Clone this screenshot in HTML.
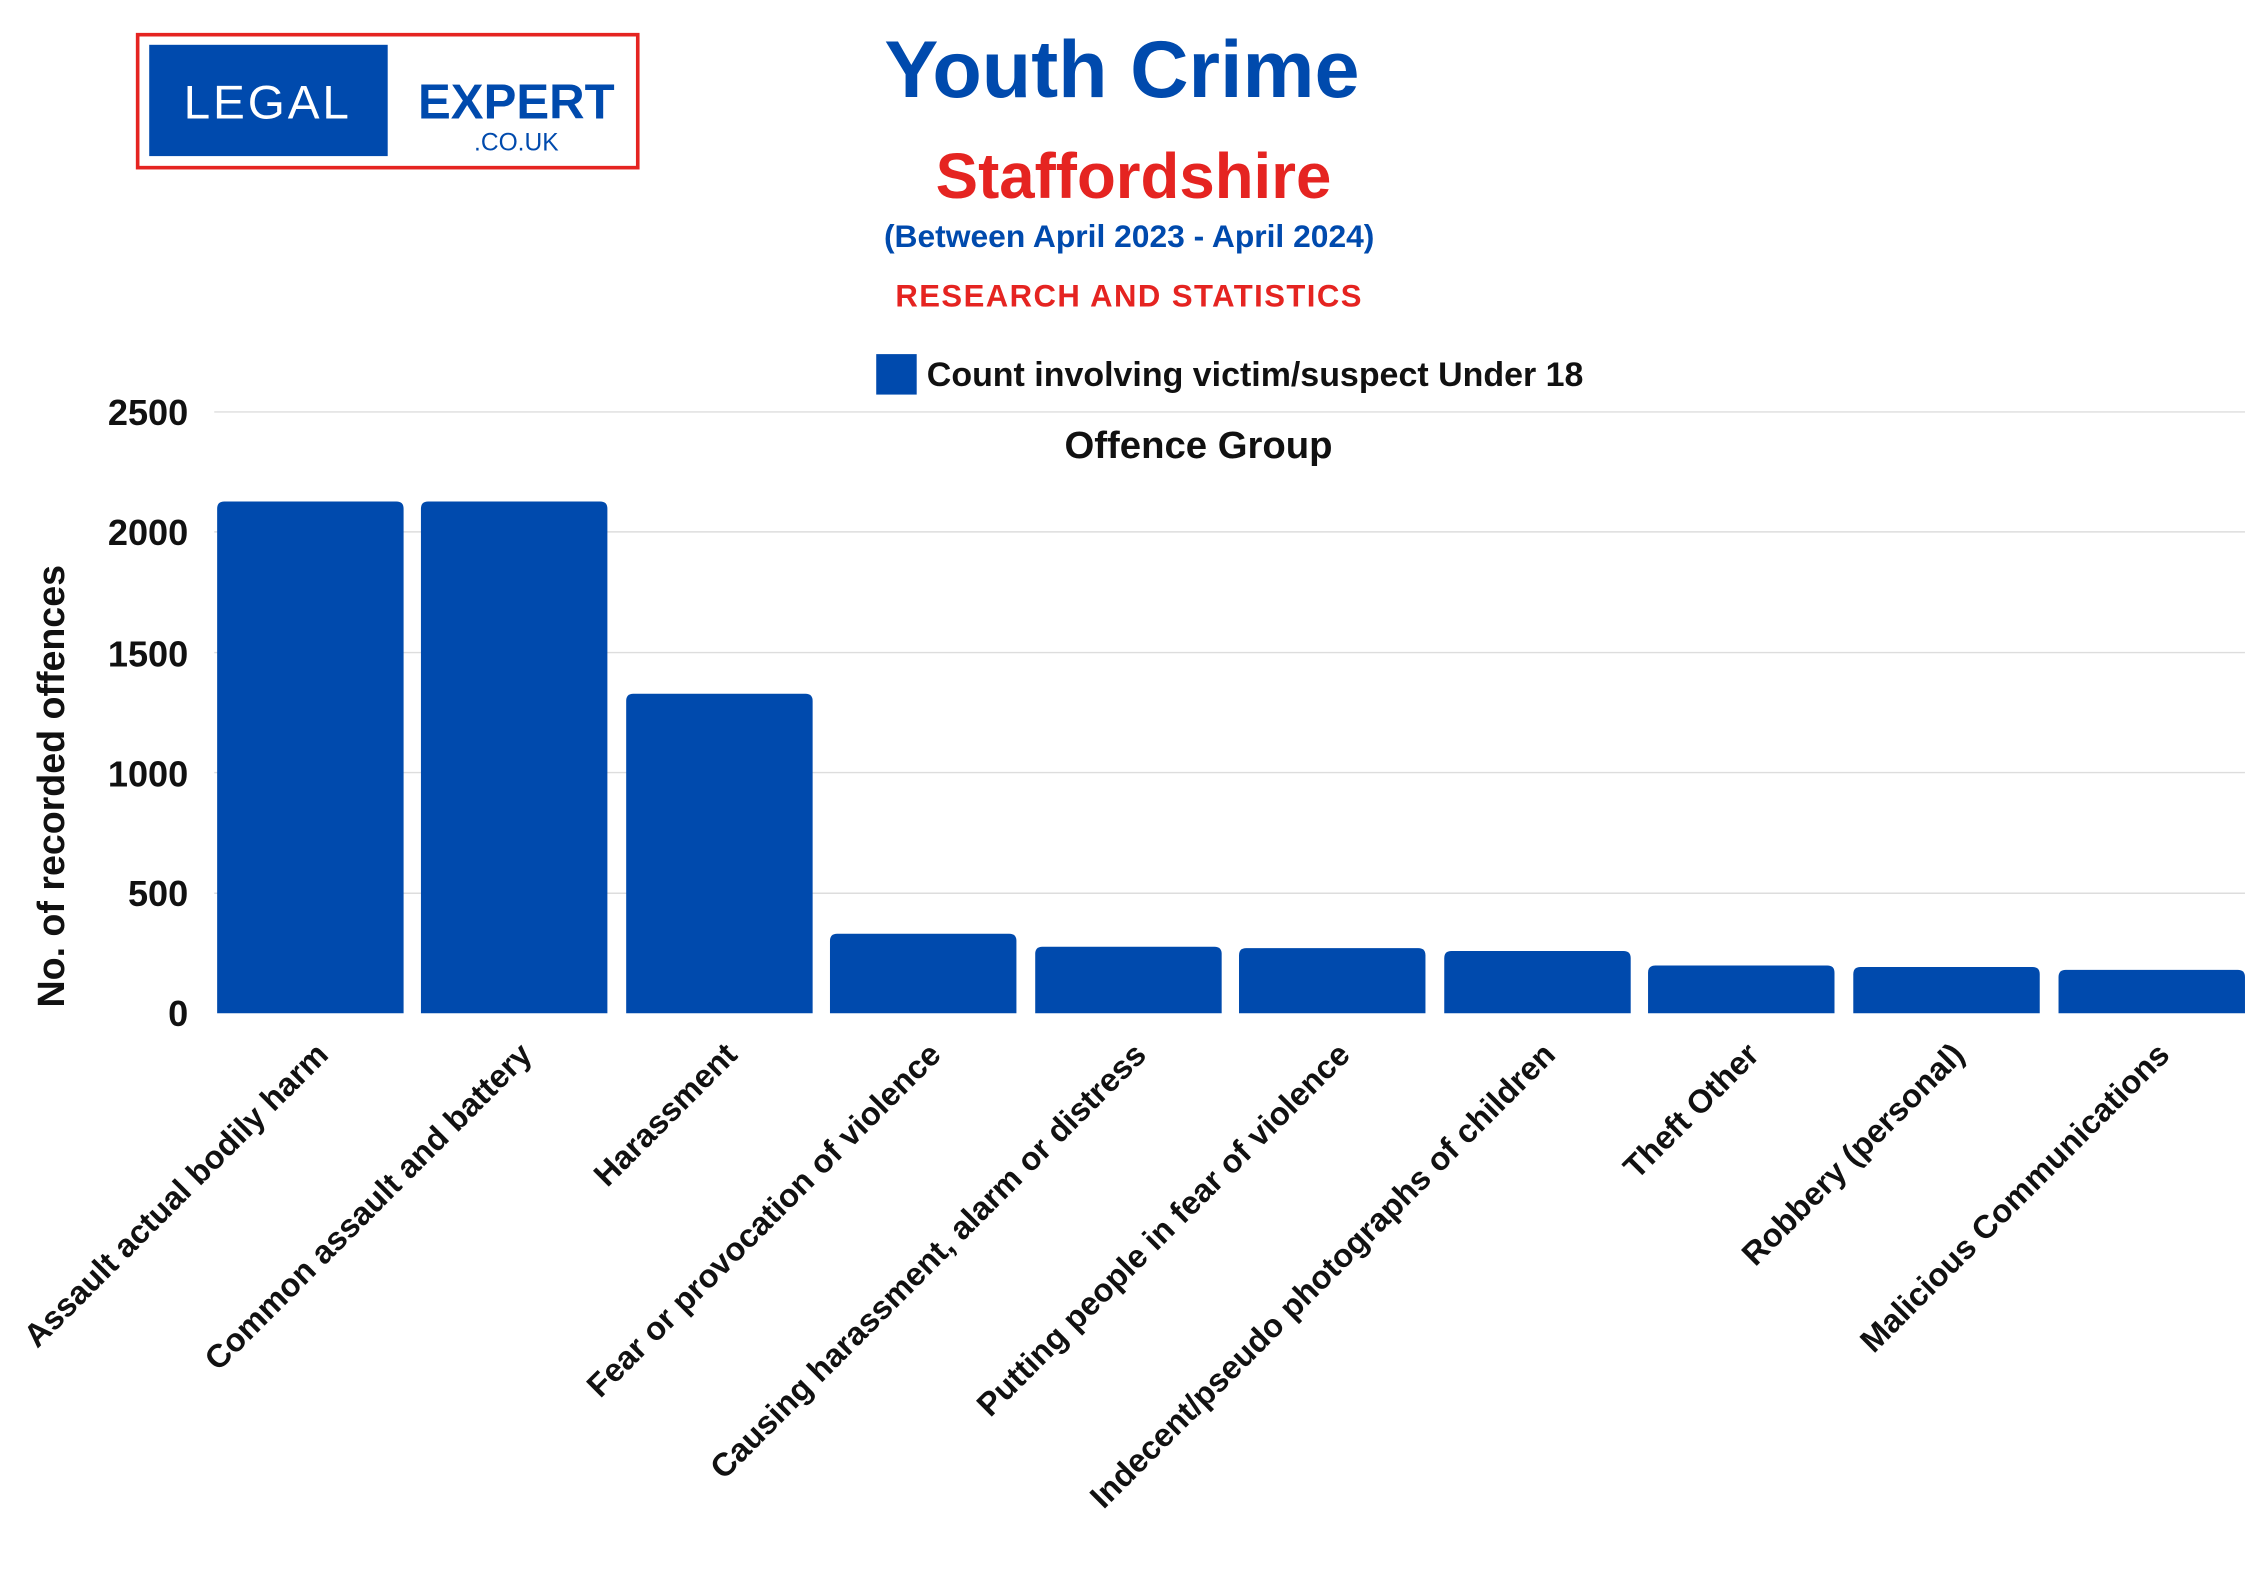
<!DOCTYPE html>
<html><head><meta charset="utf-8"><style>
html,body{margin:0;padding:0;background:#fff;}
svg{display:block;}
text{font-family:"Liberation Sans",sans-serif;font-weight:bold;}
</style></head><body>
<svg width="2267" height="1587" viewBox="0 0 1568 1098" xmlns="http://www.w3.org/2000/svg">
<rect x="0" y="0" width="1568" height="1098" fill="#fff"/>
<!-- logo -->
<rect x="95" y="24" width="346" height="92" fill="#fff" stroke="#e52421" stroke-width="2.5"/>
<rect x="103" y="31" width="165" height="77" fill="#004aad"/>
<text x="185" y="82" font-size="33" fill="#fff" text-anchor="middle" style="font-weight:normal" letter-spacing="2">LEGAL</text>
<text x="357" y="82" font-size="34" fill="#004aad" text-anchor="middle">EXPERT</text>
<text x="357" y="104" font-size="17" fill="#004aad" text-anchor="middle" style="font-weight:normal">.CO.UK</text>
<!-- titles -->
<text x="776" y="67" font-size="56" fill="#004aad" text-anchor="middle">Youth Crime</text>
<text x="784" y="137" font-size="44" fill="#e52421" text-anchor="middle">Staffordshire</text>
<text x="781" y="171" font-size="22" fill="#004aad" text-anchor="middle">(Between April 2023 - April 2024)</text>
<text x="781" y="212" font-size="21.5" fill="#e52421" text-anchor="middle" letter-spacing="1">RESEARCH AND STATISTICS</text>
<!-- legend -->
<rect x="606" y="245" width="28" height="28" fill="#004aad"/>
<text x="641" y="267" font-size="23.5" fill="#111">Count involving victim/suspect Under 18</text>
<!-- grid -->
<g stroke="#dddddd" stroke-width="1">
<line x1="148" x2="1553" y1="285" y2="285"/>
<line x1="148" x2="1553" y1="368" y2="368"/>
<line x1="148" x2="1553" y1="451.5" y2="451.5"/>
<line x1="148" x2="1553" y1="534.5" y2="534.5"/>
<line x1="148" x2="1553" y1="618" y2="618"/>
</g>
<g font-size="25" fill="#111" text-anchor="end">
<text x="130" y="294">2500</text>
<text x="130" y="377">2000</text>
<text x="130" y="461">1500</text>
<text x="130" y="544">1000</text>
<text x="130" y="627">500</text>
<text x="130" y="710">0</text>
</g>
<text x="829" y="317" font-size="26.5" fill="#111" text-anchor="middle">Offence Group</text>
<text transform="translate(44,544) rotate(-90)" font-size="26" fill="#111" text-anchor="middle">No. of recorded offences</text>
<!-- bars -->
<g fill="#004aad">
<path d="M150 701V352q0-5 5-5h119q5 0 5 5V701z"/>
<path d="M291 701V352q0-5 5-5h119q5 0 5 5V701z"/>
<path d="M433 701V485q0-5 5-5h119q5 0 5 5V701z"/>
<path d="M574 701V651q0-5 5-5h119q5 0 5 5V701z"/>
<path d="M716 701V660q0-5 5-5h119q5 0 5 5V701z"/>
<path d="M857 701V661q0-5 5-5h119q5 0 5 5V701z"/>
<path d="M999 701V663q0-5 5-5h119q5 0 5 5V701z"/>
<path d="M1140 701V673q0-5 5-5h119q5 0 5 5V701z"/>
<path d="M1282 701V674q0-5 5-5h119q5 0 5 5V701z"/>
<path d="M1424 701V676q0-5 5-5h119q5 0 5 5V701z"/>
</g>
<g font-size="22.5" fill="#111" text-anchor="end">
<text transform="translate(228,731) rotate(-45)">Assault actual bodily harm</text>
<text transform="translate(369,731) rotate(-45)">Common assault and battery</text>
<text transform="translate(511,731) rotate(-45)">Harassment</text>
<text transform="translate(652,731) rotate(-45)">Fear or provocation of violence</text>
<text transform="translate(794,731) rotate(-45)">Causing harassment, alarm or distress</text>
<text transform="translate(935,731) rotate(-45)">Putting people in fear of violence</text>
<text transform="translate(1077,731) rotate(-45)">Indecent/pseudo photographs of children</text>
<text transform="translate(1218,731) rotate(-45)">Theft Other</text>
<text transform="translate(1360,731) rotate(-45)">Robbery (personal)</text>
<text transform="translate(1502,731) rotate(-45)">Malicious Communications</text>
</g>
</svg>
</body></html>
